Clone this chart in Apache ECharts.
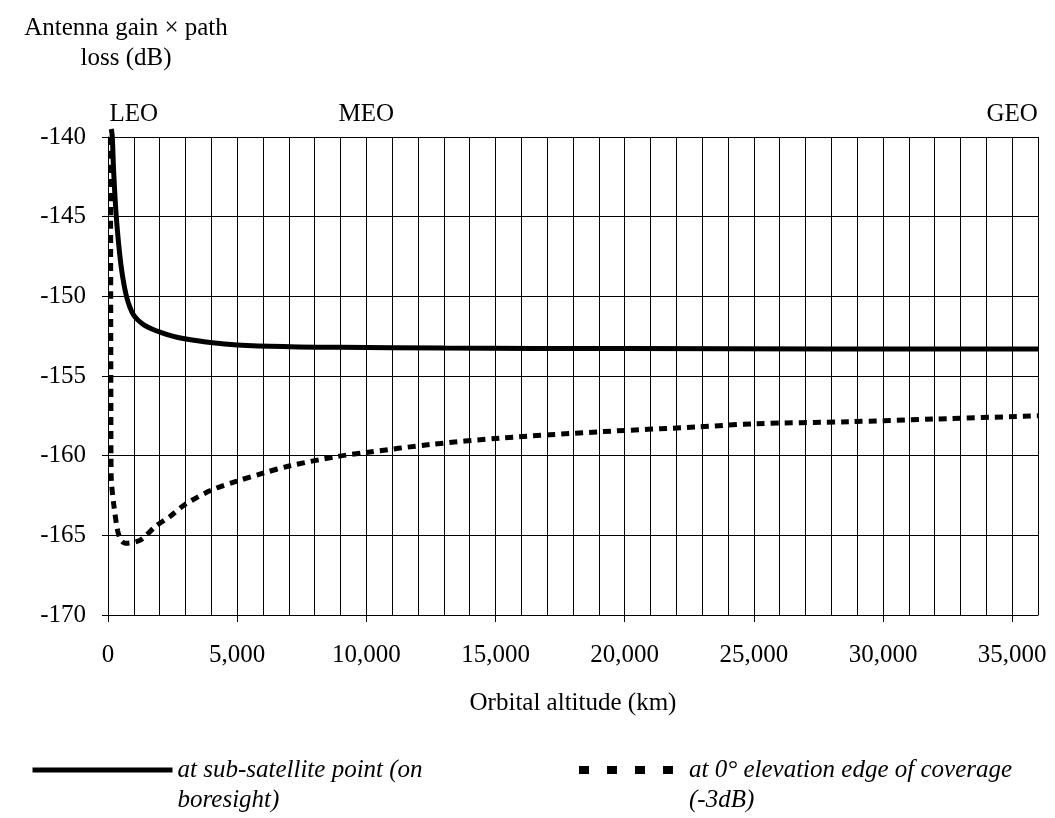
<!DOCTYPE html>
<html>
<head>
<meta charset="utf-8">
<script src="https://cdn.jsdelivr.net/npm/echarts@6/dist/echarts.min.js"></script>
<style>
  html, body { margin: 0; padding: 0; background: #ffffff; }
  #chart { width: 1055px; height: 818px; }
</style>
</head>
<body>
<div id="chart"></div>
<script>
// Antenna gain x path loss vs orbital altitude
// values: [altitude km, dB]
const SERIES_NAMES = [
  'at sub-satellite point (on boresight)',
  'at 0° elevation edge of coverage (-3dB)',
];
const BORESIGHT = [
  [128, -139.5], [166, -140], [217, -142.1], [321, -145], [449, -147.3],
  [560, -148.7], [700, -149.9], [850, -150.7], [1000, -151.2], [1200, -151.55],
  [1400, -151.8], [1700, -152.05], [2020, -152.25], [2500, -152.5],
  [2910, -152.65], [3960, -152.9], [5000, -153.05], [7050, -153.16],
  [9000, -153.2], [13000, -153.25], [20000, -153.28], [28000, -153.3],
  [36000, -153.3],
];
const EDGE = [
  [95, -140], [100, -145], [105, -150], [110, -155], [116, -160],
  [128, -161.5], [218, -163], [372, -164.7], [500, -165.3], [670, -165.5],
  [1250, -165.3], [1830, -164.45], [2410, -163.8], [2990, -163.05],
  [4020, -162.15], [4990, -161.6], [6000, -161.1], [7050, -160.63],
  [8850, -160.06], [10000, -159.8], [12470, -159.3], [15170, -158.9],
  [19040, -158.5], [22780, -158.2], [25000, -158.0], [28700, -157.87],
  [32000, -157.7], [36000, -157.5],
];
// orbit class labels along the top, keyed by altitude (km)
const ORBIT_LABELS = { 1000: 'LEO', 10000: 'MEO', 35000: 'GEO' };
// leading empty line keeps the legend icon level with the first text line
const LEGEND_TEXT = {
  [SERIES_NAMES[0]]: '\nat sub-satellite point (on\nboresight)',
  [SERIES_NAMES[1]]: '\nat 0° elevation edge of coverage\n(-3dB)',
};

const FONT = '"Liberation Serif", "Times New Roman", serif';
const TEXT = { fontFamily: FONT, fontSize: 25, color: '#000000' };
const GRID_LINE = { lineStyle: { color: '#000000', width: 1 } };
const LEGEND_TEXT_STYLE = { ...TEXT, fontStyle: 'italic', lineHeight: 30 };

const fmtThousands = (v) => String(v).replace(/\B(?=(\d{3})+(?!\d))/g, ',');

const chart = echarts.init(document.getElementById('chart'));
chart.setOption({
  animation: false,
  backgroundColor: '#ffffff',
  title: {
    text: 'Antenna gain × path\nloss (dB)',
    left: 121,
    top: 8,
    textAlign: 'center',
    textStyle: { ...TEXT, fontWeight: 'normal', lineHeight: 30 },
  },
  grid: { left: 108, right: 17, top: 137, bottom: 203 },
  xAxis: [
    {
      // bottom axis: labels and major ticks every 5,000 km
      type: 'value',
      position: 'bottom',
      min: 0,
      max: 36000,
      interval: 5000,
      name: 'Orbital altitude (km)',
      nameLocation: 'middle',
      nameGap: 76,
      nameTextStyle: TEXT,
      axisLine: { lineStyle: { color: '#000000', width: 1 } },
      axisTick: { show: true, length: 7, lineStyle: { color: '#000000' } },
      axisLabel: {
        ...TEXT,
        margin: 28,
        showMaxLabel: false,
        formatter: (v) => fmtThousands(v),
      },
      splitLine: { show: false },
    },
    {
      // top axis: vertical gridlines every 1,000 km + orbit labels
      type: 'value',
      position: 'top',
      min: 0,
      max: 36000,
      interval: 1000,
      axisLine: { show: false },
      axisTick: { show: false },
      axisLabel: {
        ...TEXT,
        margin: 10,
        formatter: (v) => ORBIT_LABELS[v] || '',
      },
      splitLine: GRID_LINE,
    },
  ],
  yAxis: {
    type: 'value',
    min: -170,
    max: -140,
    interval: 5,
    axisLine: { show: true, lineStyle: { color: '#000000', width: 1 } },
    axisTick: { show: true, length: 6, lineStyle: { color: '#000000' } },
    axisLabel: { ...TEXT, margin: 22 },
    splitLine: GRID_LINE,
  },
  legend: [
    {
      data: [SERIES_NAMES[0]],
      left: 30,
      top: 725,
      padding: 0,
      itemWidth: 140,
      itemHeight: 10,
      selectedMode: false,
      itemStyle: { opacity: 0 },
      lineStyle: { width: 5, type: 'solid' },
      formatter: (n) => LEGEND_TEXT[n],
      textStyle: LEGEND_TEXT_STYLE,
    },
    {
      data: [SERIES_NAMES[1]],
      left: 575,
      top: 725,
      padding: 0,
      itemWidth: 105,
      itemHeight: 10,
      selectedMode: false,
      itemStyle: { opacity: 0 },
      lineStyle: { width: 8, type: [10, 18] },
      formatter: (n) => LEGEND_TEXT[n],
      textStyle: LEGEND_TEXT_STYLE,
    },
  ],
  series: [
    {
      name: SERIES_NAMES[0],
      type: 'line',
      xAxisIndex: 0,
      data: BORESIGHT,
      smooth: 0.4,
      symbol: 'none',
      clip: false,
      lineStyle: { color: '#000000', width: 5 },
      itemStyle: { color: '#000000' },
    },
    {
      name: SERIES_NAMES[1],
      type: 'line',
      xAxisIndex: 0,
      data: EDGE,
      smooth: 0.3,
      symbol: 'none',
      clip: false,
      lineStyle: { color: '#000000', width: 5, type: [8, 6] },
      itemStyle: { color: '#000000' },
    },
  ],
});
</script>
</body>
</html>
